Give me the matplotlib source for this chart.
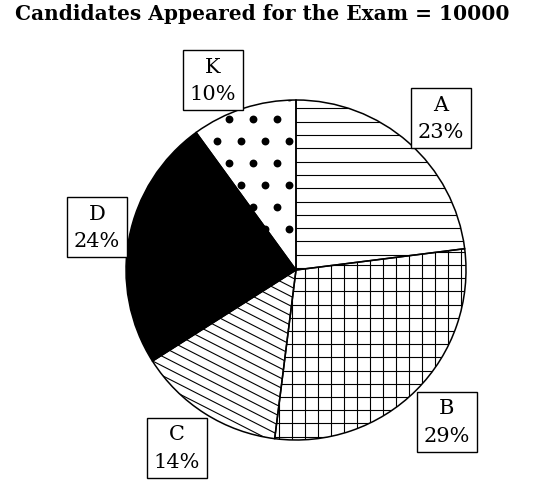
import numpy as np
import matplotlib
matplotlib.use("Agg")
import matplotlib.pyplot as plt
from matplotlib.patches import Rectangle
from matplotlib.collections import LineCollection

# ---- data ----
categories = ['A', 'B', 'C', 'D', 'K']
shares = [23, 29, 14, 24, 10]
title_text = 'Candidates Appeared for the Exam = 10000'

# ---- layout (pixels) ----
W, H = 549, 498
CX, CY, R = 296, 270, 170
label_centers = {'A': (441, 118), 'B': (447, 422), 'C': (177, 448),
                 'D': (97, 227), 'K': (213, 80)}
BOX = 60

def px(x, y):
    return (x - CX) / R, (CY - y) / R

plt.rcParams['font.family'] = ['DejaVu Serif']
fig = plt.figure(figsize=(W / 100, H / 100), dpi=100)
ax = fig.add_axes([0, 0, 1, 1])
fills = ['white', 'white', 'white', 'black', 'white']
wedges, _ = ax.pie(shares, startangle=90, counterclock=False, colors=fills,
                   wedgeprops=dict(edgecolor='black', linewidth=1.1))
ax.set_xlim(-CX / R, (W - CX) / R)
ax.set_ylim(-(H - CY) / R, CY / R)
ax.axis('off')


def hatch_lines(angle_deg, spacing_px, phase=0.0):
    t = np.deg2rad(angle_deg)
    d = np.array([np.cos(t), np.sin(t)])
    n = np.array([-np.sin(t), np.cos(t)])
    sp = spacing_px / R
    segs = []
    for k in range(-int(1.6 / sp), int(1.6 / sp) + 1):
        o = n * (k * sp + phase / R)
        segs.append([o - 1.6 * d, o + 1.6 * d])
    return segs


def add_hatch(wedge, segs, lw=0.8):
    lc = LineCollection(segs, colors='black', linewidths=lw, zorder=2)
    ax.add_collection(lc)
    lc.set_clip_path(wedge)


# A: horizontal lines
add_hatch(wedges[0], hatch_lines(0, 13.3, 2))
# B: grid
add_hatch(wedges[1], hatch_lines(0, 13.2, 5) + hatch_lines(90, 13.0, 4))
# C: slanted lines
add_hatch(wedges[2], hatch_lines(-27, 8.6, 0))
# K: dots on a staggered lattice
pts = []
for j in range(-12, 13):
    for i in range(-12, 13):
        x = i * 24 + (j % 2) * 12 - 7
        y = j * 22 - 3
        pts.append((x / R, y / R))
pts = np.array(pts)
sc = ax.scatter(pts[:, 0], pts[:, 1], s=32, c='black', zorder=2, linewidths=0)
sc.set_clip_path(wedges[4])

for w in wedges:
    w.set_zorder(3)
    if w is not wedges[3]:
        w.set_facecolor('none')

# label boxes
for cat, val in zip(categories, shares):
    bx, by = label_centers[cat]
    x0, y0 = px(bx - BOX / 2, by + BOX / 2)
    ax.add_patch(Rectangle((x0, y0), BOX / R, BOX / R, facecolor='white',
                           edgecolor='black', linewidth=1.0, zorder=4))
    tx, ty = px(bx, by - 13)
    ax.text(tx, ty, cat, ha='center', va='center', fontsize=15, zorder=5)
    tx, ty = px(bx, by + 14)
    ax.text(tx, ty, f'{val}%', ha='center', va='center', fontsize=15, zorder=5)

fig.text(262 / W, 1 - 14 / H, title_text, ha='center', va='center',
         fontsize=14.5, fontweight='bold')

fig.savefig('out.png', dpi=100, facecolor='white')
